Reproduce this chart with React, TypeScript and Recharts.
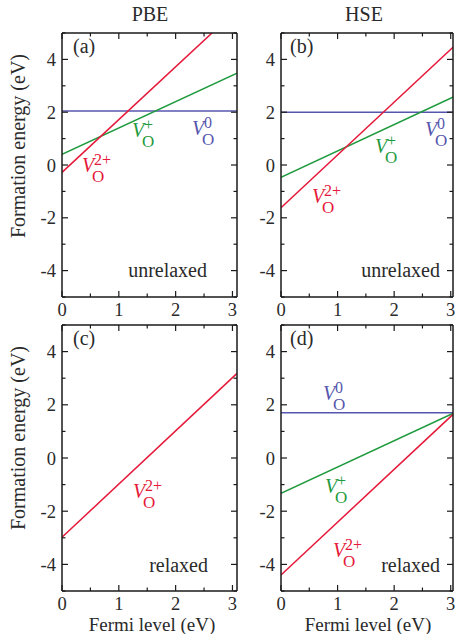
import React from 'react';
import { LineChart, Line, XAxis, YAxis } from 'recharts';

// Fermi level end points (eV) and formation energies read at those points
const FERMI = [0, 3.08];

const PBE_UNRELAXED_V0 = [2.05, 2.05];
const PBE_UNRELAXED_V1 = [0.4, 3.48];
const PBE_UNRELAXED_V2 = [-0.28, 5.88];

const HSE_UNRELAXED_V0 = [2.0, 2.0];
const HSE_UNRELAXED_V1 = [-0.47, 2.61];
const HSE_UNRELAXED_V2 = [-1.62, 4.54];

const PBE_RELAXED_V2 = [-2.98, 3.18];

const HSE_RELAXED_V0 = [1.7, 1.7];
const HSE_RELAXED_V1 = [-1.33, 1.72];
const HSE_RELAXED_V2 = [-4.4, 1.72];

const X_TICKS = [0, 0.5, 1, 1.5, 2, 2.5, 3];
const Y_TICKS = [-5, -4, -3, -2, -1, 0, 1, 2, 3, 4, 5];
const Y_LABELS = [-4, -2, 0, 2, 4];

const FONT = '"Liberation Serif", "Times New Roman", serif';
const AXIS = '#1a1a1a';
const TEXT = '#2a2a2a';
const RED = '#e5193a';
const GREEN = '#1f9a3e';
const BLUE = '#5656ae';

const buildRows = (v0?: number[], v1?: number[], v2?: number[]) =>
  FERMI.map((x, i) => ({
    x,
    v0: v0 ? v0[i] : null,
    v1: v1 ? v1[i] : null,
    v2: v2 ? v2[i] : null,
  }));

const BottomTick = (props: any) => {
  const { x, y, payload } = props;
  const major = Number.isInteger(payload.value);
  return (
    <g>
      <line x1={x} x2={x} y1={y} y2={y - (major ? 6 : 3.5)} stroke={AXIS} strokeWidth={1.2} />
      {major && (
        <text x={x} y={y + 19} textAnchor="middle" fontSize={18.5} fontFamily={FONT} fill={TEXT}>
          {payload.value}
        </text>
      )}
    </g>
  );
};

const TopTick = (props: any) => {
  const { x, y, payload } = props;
  const major = Number.isInteger(payload.value);
  return <line x1={x} x2={x} y1={y} y2={y + (major ? 6 : 3.5)} stroke={AXIS} strokeWidth={1.2} />;
};

const LeftTick = (props: any) => {
  const { x, y, payload } = props;
  const major = Y_LABELS.includes(payload.value);
  return (
    <g>
      <line x1={x} x2={x + (major ? 6 : 3.5)} y1={y} y2={y} stroke={AXIS} strokeWidth={1.2} />
      {major && (
        <text x={x - 6} y={y + 6.5} textAnchor="end" fontSize={18.5} fontFamily={FONT} fill={TEXT}>
          {payload.value}
        </text>
      )}
    </g>
  );
};

const RightTick = (props: any) => {
  const { x, y, payload } = props;
  const major = Y_LABELS.includes(payload.value);
  return <line x1={x} x2={x - (major ? 6 : 3.5)} y1={y} y2={y} stroke={AXIS} strokeWidth={1.2} />;
};

interface PanelProps {
  rows: any[];
  left: number;
  top: number;
  width: number;
  height: number;
  margin: { top: number; right: number; bottom: number; left: number };
  xMax: number;
}

const Panel: React.FC<PanelProps> = ({ rows, left, top, width, height, margin, xMax }) => {
  const axisLine = { stroke: AXIS, strokeWidth: 1.5 };
  // axes are 1px wide/high so the margins place the frame exactly
  const m = { top: margin.top - 1, right: margin.right - 1, bottom: margin.bottom - 1, left: margin.left - 1 };
  return (
    <div style={{ position: 'absolute', left, top }}>
      <LineChart width={width} height={height} data={rows} margin={m}>
        <XAxis dataKey="x" type="number" domain={[0, xMax]} ticks={X_TICKS} allowDataOverflow
          height={1} tickSize={0} tickMargin={0} tickLine={false} axisLine={axisLine} interval={0} tick={BottomTick} />
        <XAxis xAxisId="top" orientation="top" dataKey="x" type="number" domain={[0, xMax]} ticks={X_TICKS} allowDataOverflow
          height={1} tickSize={0} tickMargin={0} tickLine={false} axisLine={axisLine} interval={0} tick={TopTick} />
        <YAxis type="number" domain={[-5, 5]} ticks={Y_TICKS} allowDataOverflow
          width={1} tickSize={0} tickMargin={0} tickLine={false} axisLine={axisLine} interval={0} tick={LeftTick} />
        <YAxis yAxisId="right" orientation="right" type="number" domain={[-5, 5]} ticks={Y_TICKS} allowDataOverflow
          width={1} tickSize={0} tickMargin={0} tickLine={false} axisLine={axisLine} interval={0} tick={RightTick} />
        {rows[0].v0 !== null && (
          <Line dataKey="v0" type="linear" stroke={BLUE} strokeWidth={1.5} dot={false} isAnimationActive={false} />
        )}
        {rows[0].v1 !== null && (
          <Line dataKey="v1" type="linear" stroke={GREEN} strokeWidth={1.5} dot={false} isAnimationActive={false} />
        )}
        {rows[0].v2 !== null && (
          <Line dataKey="v2" type="linear" stroke={RED} strokeWidth={1.5} dot={false} isAnimationActive={false} />
        )}
      </LineChart>
    </div>
  );
};

// V_O with charge label, subscript and superscript stacked
const VLabel = ({ x, y, sup, color }: { x: number; y: number; sup: string; color: string }) => (
  <g fill={color} fontFamily={FONT}>
    <text x={x} y={y} fontSize={20} fontStyle="italic">V</text>
    <text x={x + 10} y={y + 10} fontSize={17}>O</text>
    <text x={x + 12} y={y - 7} fontSize={16}>{sup}</text>
  </g>
);

const App: React.FC = () => {
  const topMargin = { top: 33, right: 3, bottom: 33, left: 62 };
  const topMarginR = { top: 33, right: 2, bottom: 33, left: 61 };
  const botMargin = { top: 25, right: 3, bottom: 43, left: 62 };
  const botMarginR = { top: 25, right: 2, bottom: 43, left: 61 };
  const txt = { fontFamily: FONT, fill: TEXT };

  return (
    <div style={{ position: 'absolute', left: 0, top: 0, width: 455, height: 634, background: '#fff', overflow: 'hidden' }}>
      <Panel rows={buildRows(PBE_UNRELAXED_V0, PBE_UNRELAXED_V1, PBE_UNRELAXED_V2)}
        left={0} top={0} width={240} height={330} margin={topMargin} xMax={3.08} />
      <Panel rows={buildRows(HSE_UNRELAXED_V0, HSE_UNRELAXED_V1, HSE_UNRELAXED_V2)}
        left={220} top={0} width={235} height={330} margin={topMarginR} xMax={3.04} />
      <Panel rows={buildRows(undefined, undefined, PBE_RELAXED_V2)}
        left={0} top={300} width={240} height={334} margin={botMargin} xMax={3.08} />
      <Panel rows={buildRows(HSE_RELAXED_V0, HSE_RELAXED_V1, HSE_RELAXED_V2)}
        left={220} top={300} width={235} height={334} margin={botMarginR} xMax={3.04} />

      <svg width={455} height={634} style={{ position: 'absolute', left: 0, top: 0, pointerEvents: 'none' }}>
        <text x={150} y={21} textAnchor="middle" fontSize={20} {...txt}>PBE</text>
        <text x={364} y={21} textAnchor="middle" fontSize={20} {...txt}>HSE</text>

        <text transform="translate(25,146) rotate(-90)" textAnchor="middle" fontSize={20} {...txt}>Formation energy (eV)</text>
        <text transform="translate(25,438) rotate(-90)" textAnchor="middle" fontSize={20} {...txt}>Formation energy (eV)</text>

        <text x={152} y={631} textAnchor="middle" fontSize={19} {...txt}>Fermi level (eV)</text>
        <text x={368} y={631} textAnchor="middle" fontSize={19} {...txt}>Fermi level (eV)</text>

        <text x={73} y={53} fontSize={20} {...txt}>(a)</text>
        <text x={290} y={53} fontSize={20} {...txt}>(b)</text>
        <text x={73} y={345} fontSize={20} {...txt}>(c)</text>
        <text x={290} y={345} fontSize={20} {...txt}>(d)</text>

        <text x={207} y={277} textAnchor="end" fontSize={20} {...txt}>unrelaxed</text>
        <text x={440} y={277} textAnchor="end" fontSize={20} {...txt}>unrelaxed</text>
        <text x={208} y={572} textAnchor="end" fontSize={20} {...txt}>relaxed</text>
        <text x={440} y={572} textAnchor="end" fontSize={20} {...txt}>relaxed</text>

        <VLabel x={82} y={172} sup="2+" color={RED} />
        <VLabel x={132} y={137} sup="+" color={GREEN} />
        <VLabel x={192} y={135} sup="0" color={BLUE} />

        <VLabel x={312} y={203} sup="2+" color={RED} />
        <VLabel x={375} y={153} sup="+" color={GREEN} />
        <VLabel x={425} y={136} sup="0" color={BLUE} />

        <VLabel x={133} y={498} sup="2+" color={RED} />

        <VLabel x={323} y={400} sup="0" color={BLUE} />
        <VLabel x={325} y={493} sup="+" color={GREEN} />
        <VLabel x={333} y={557} sup="2+" color={RED} />
      </svg>
    </div>
  );
};

export default App;
